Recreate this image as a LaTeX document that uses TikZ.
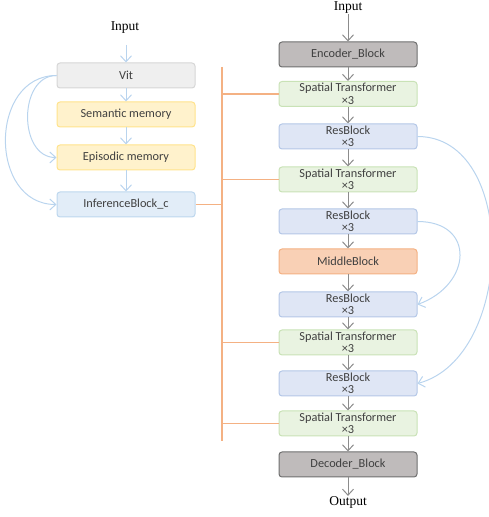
\documentclass[tikz,border=0pt]{standalone}
\usepackage{fontspec}
\setsansfont{Carlito}
\newfontfamily\ioserif{Liberation Serif}
\usetikzlibrary{arrows.meta}
\definecolor{txtgray}{HTML}{404040}
\definecolor{arrgray}{HTML}{8C8C8C}
\definecolor{arrblue}{HTML}{B9D4EE}
\definecolor{linkorange}{HTML}{F4B183}
\begin{document}
\begin{tikzpicture}[x=1pt, y=1pt,
  blk/.style={rectangle, rounded corners=3pt, line width=1pt, minimum width=138pt, minimum height=25pt, inner sep=0pt, align=center, text=txtgray, font=\sffamily\fontsize{12.3}{12.5}\selectfont},
  vitblk/.style={blk, fill={rgb,255:red,239;green,239;blue,239}, draw={rgb,255:red,214;green,214;blue,214}},
  memblk/.style={blk, fill={rgb,255:red,255;green,242;blue,204}, draw={rgb,255:red,255;green,227;blue,140}},
  infblk/.style={blk, fill={rgb,255:red,226;green,237;blue,248}, draw={rgb,255:red,189;green,215;blue,238}},
  codblk/.style={blk, fill={rgb,255:red,191;green,187;blue,187}, draw={rgb,255:red,111;green,111;blue,111}},
  stblk/.style={blk, fill={rgb,255:red,233;green,243;blue,225}, draw={rgb,255:red,201;green,226;blue,182}},
  resblk/.style={blk, fill={rgb,255:red,223;green,230;blue,245}, draw={rgb,255:red,180;green,199;blue,231}},
  midblk/.style={blk, fill={rgb,255:red,249;green,208;blue,181}, draw={rgb,255:red,244;green,177;blue,131}},
  io/.style={font=\ioserif\fontsize{13.5}{14}\selectfont, text=black, inner sep=0pt},
  grayarr/.style={draw=arrgray, line width=1pt, -{Straight Barb[length=6pt, width=11pt]}},
  bluearr/.style={draw=arrblue, line width=1pt, -{Straight Barb[length=6pt, width=11pt]}},
  link/.style={draw=linkorange, line width=1.2pt}]
\useasboundingbox (0,0) rectangle (489,517);
\node[io] (inl) at (125,489) {Input};
\node[vitblk] (vit) at (126,441.5) {Vit};
\node[memblk] (sem) at (126,402.5) {Semantic memory};
\node[memblk] (epi) at (126,359.5) {Episodic memory};
\node[infblk] (inf) at (126,312.5) {InferenceBlock\_c};
\coordinate (inlend) at (126,472);
\draw[bluearr] (inlend) -- (vit);
\draw[bluearr] (vit) -- (sem);
\draw[bluearr] (sem) -- (epi);
\draw[bluearr] (epi) -- (inf);
\draw[bluearr] (vit.west) to[out=180, in=180, looseness=1.2] (epi.west);
\draw[bluearr] (vit.west) to[out=180, in=180, looseness=1.35] (inf.west);
\node[io] (inr) at (348,509) {Input};
\node[codblk] (enc) at (348,462.5) {Encoder\_Block};
\node[stblk] (sta) at (348,423) {Spatial Transformer\\×3};
\node[resblk] (rea) at (348,380.5) {ResBlock\\×3};
\node[stblk] (stb) at (348,337.5) {Spatial Transformer\\×3};
\node[resblk] (reb) at (348,295.5) {ResBlock\\×3};
\node[midblk] (mid) at (348,255.5) {MiddleBlock};
\node[resblk] (rec) at (348,212.5) {ResBlock\\×3};
\node[stblk] (stc) at (348,174.5) {Spatial Transformer\\×3};
\node[resblk] (red) at (348,133.5) {ResBlock\\×3};
\node[stblk] (std) at (348,93.5) {Spatial Transformer\\×3};
\node[codblk] (dec) at (348,52.5) {Decoder\_Block};
\node[io] (outr) at (348,15) {Output};
\draw[grayarr] (inr) -- (enc);
\draw[grayarr] (enc) -- (sta);
\draw[grayarr] (sta) -- (rea);
\draw[grayarr] (rea) -- (stb);
\draw[grayarr] (stb) -- (reb);
\draw[grayarr] (reb) -- (mid);
\draw[grayarr] (mid) -- (rec);
\draw[grayarr] (rec) -- (stc);
\draw[grayarr] (stc) -- (red);
\draw[grayarr] (red) -- (std);
\draw[grayarr] (std) -- (dec);
\draw[grayarr] (dec) -- (outr);
\draw[bluearr] (rea.east) to[out=0, in=15, looseness=1.05] (red.east);
\draw[bluearr] (reb.east) to[out=0, in=20, looseness=1.8] (rec.east);
\coordinate (trtop) at (222,450);
\coordinate (trbot) at (222,76);
\draw[link] (trtop) -- (trbot);
\draw[link] (inf.east) -- (trbot |- inf.east);
\draw[link] (trbot |- sta.west) -- (sta.west);
\draw[link] (trbot |- stb.west) -- (stb.west);
\draw[link] (trbot |- stc.west) -- (stc.west);
\draw[link] (trbot |- std.west) -- (std.west);
\end{tikzpicture}
\end{document}
